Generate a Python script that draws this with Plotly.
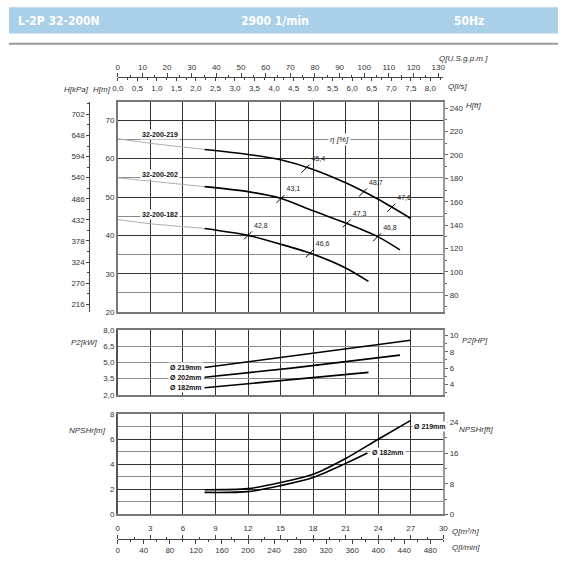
import plotly.graph_objects as go

# page size, everything else is placed in pixels and converted to paper coords
W, H = 566, 567


def px(x):
    return x / W


def py(y):
    return 1 - y / H


# pump data (Q in m3/h)
q_219 = [8, 12, 15, 18, 21, 24, 27]
h_219 = [62.4, 61.1, 59.7, 57.2, 53.7, 49.4, 44.4]
q_202 = [8, 12, 15, 18, 21, 24, 26]
h_202 = [52.7, 51.4, 49.7, 46.4, 43.2, 39.6, 36.2]
q_182 = [8, 12, 15, 18, 21, 23.1]
h_182 = [41.8, 40.0, 37.7, 35.1, 31.5, 28.0]

# grey extension of the curves towards shut-off
q_ext = [0, 3, 8]
h_ext_219 = [65.2, 64.0, 62.4]
h_ext_202 = [55.0, 54.1, 52.7]
h_ext_182 = [44.1, 43.0, 41.8]

# efficiency marks on the curves
eta_q_219 = [17.3, 22.6, 25.2]
eta_h_219 = [57.4, 51.2, 47.2]
eta_t_219 = ["45,4", "48,7", "47,6"]
eta_q_202 = [15.0, 21.1, 23.9]
eta_h_202 = [49.5, 43.1, 39.5]
eta_t_202 = ["43,1", "47,3", "46,8"]
eta_q_182 = [12.0, 17.7]
eta_h_182 = [40.0, 35.3]
eta_t_182 = ["42,8", "46,6"]

# power P2 [kW]
p_q_219 = [8, 16, 27]
p_219 = [4.53, 5.57, 7.03]
p_q_202 = [8, 16, 26]
p_202 = [3.63, 4.47, 5.67]
p_q_182 = [8, 16, 23.1]
p_182 = [2.66, 3.41, 4.08]

# NPSHr [m]
n_q_219 = [8, 12, 15, 18, 21, 24, 27]
n_219 = [1.97, 2.06, 2.55, 3.2, 4.46, 6.0, 7.5]
n_q_182 = [8, 12, 15, 18, 21, 23.0]
n_182 = [1.76, 1.82, 2.3, 2.95, 4.07, 4.9]

p_ticks = [2.0, 3.5, 5.0, 6.5, 8.0]

# unit conversions
M_TO_KPA = 9.81
M_TO_FT = 3.28084
KW_TO_HP = 1 / 0.7457
M3H_TO_GPM = 4.40287
M3H_TO_LS = 1 / 3.6
M3H_TO_LMIN = 1000 / 60

Q_MAX = 30
H_RANGE = [20, 74.8]
P_RANGE = [2, 8]
N_RANGE = [0, 8]

TICK_FONT = dict(family="Liberation Sans, Arial, sans-serif", size=8, color="#333")
DARK = "#333333"
GREY = "#8a8a8a"

x_dom = [px(114), px(446)]
main_dom = [py(313), py(99.5)]
pow_dom = [py(397.3), py(331)]
npsh_dom = [py(518.7), py(416.7)]

fig = go.Figure()

# main head curves
for qe, he in [(q_ext, h_ext_219), (q_ext, h_ext_202), (q_ext, h_ext_182)]:
    fig.add_trace(go.Scatter(x=qe, y=he, mode="lines", line=dict(color="#b0b0b0", width=1),
                             xaxis="x", yaxis="y", hoverinfo="skip"))
for q, h in [(q_219, h_219), (q_202, h_202), (q_182, h_182)]:
    fig.add_trace(go.Scatter(x=q, y=h, mode="lines",
                             line=dict(color="black", width=1.6, shape="spline", smoothing=0.8),
                             xaxis="x", yaxis="y"))
for q, h, t in [(eta_q_219, eta_h_219, eta_t_219), (eta_q_202, eta_h_202, eta_t_202),
                (eta_q_182, eta_h_182, eta_t_182)]:
    fig.add_trace(go.Scatter(x=q, y=h, text=t, mode="markers+text", textposition="top right",
                             textfont=dict(family="Liberation Sans, Arial", size=7, color="#222"),
                             marker=dict(symbol="line-ne", size=8, line=dict(color="black", width=1)),
                             xaxis="x", yaxis="y"))

# power curves
for q, p in [(p_q_219, p_219), (p_q_202, p_202), (p_q_182, p_182)]:
    fig.add_trace(go.Scatter(x=q, y=p, mode="lines", line=dict(color="black", width=1.6),
                             xaxis="x2", yaxis="y4"))

# npsh curves
for q, n in [(n_q_219, n_219), (n_q_182, n_182)]:
    fig.add_trace(go.Scatter(x=q, y=n, mode="lines",
                             line=dict(color="black", width=1.6, shape="spline", smoothing=0.8),
                             xaxis="x3", yaxis="y6"))

# empty traces so the secondary unit axes get drawn
for xa, ya in [("x4", "y"), ("x5", "y"), ("x", "y2"), ("x", "y3"), ("x2", "y5"),
               ("x6", "y6"), ("x7", "y6"), ("x3", "y7")]:
    fig.add_trace(go.Scatter(x=[None], y=[None], mode="lines", xaxis=xa, yaxis=ya,
                             hoverinfo="skip"))

base_x = dict(domain=x_dom, range=[0, Q_MAX], dtick=3, tick0=0, showticklabels=False, ticks="",
              showgrid=True, gridcolor=DARK, gridwidth=1, zeroline=False,
              showline=True, linecolor="#777", linewidth=1.5, mirror=True)

fig.update_layout(
    width=W, height=H, margin=dict(l=0, r=0, t=0, b=0),
    paper_bgcolor="white", plot_bgcolor="white",
    showlegend=False, separators=",.",
    xaxis=dict(base_x, anchor="y"),
    xaxis2=dict(base_x, anchor="y4"),
    xaxis3=dict(base_x, anchor="y6"),
    # top flow axes
    xaxis4=dict(overlaying="x", anchor="free", position=py(74.3), side="top",
                range=[0, Q_MAX * M3H_TO_GPM], dtick=10, tick0=0, showgrid=False, zeroline=False,
                showline=True, linecolor="#444", linewidth=1, ticks="outside", ticklen=4, tickcolor="#444",
                minor=dict(dtick=5, ticklen=2, ticks="outside", tickcolor="#444"),
                tickfont=TICK_FONT),
    xaxis5=dict(overlaying="x", anchor="free", position=py(74.3), side="bottom",
                range=[0, Q_MAX * M3H_TO_LS], dtick=0.5, tick0=0, tickformat=".1f",
                showgrid=False, zeroline=False, showline=False, ticks="outside", ticklen=3,
                tickcolor="#444", minor=dict(dtick=0.25, ticklen=2, ticks="outside", tickcolor="#444"),
                tickfont=TICK_FONT),
    # bottom flow axes
    xaxis6=dict(overlaying="x3", anchor="free", position=py(543.3), side="top",
                range=[0, Q_MAX], dtick=3, tick0=0, showgrid=False, zeroline=False,
                showline=True, linecolor="#444", linewidth=1, ticks="outside", ticklen=4, tickcolor="#444",
                minor=dict(dtick=1.5, ticklen=2, ticks="outside", tickcolor="#444"),
                tickfont=TICK_FONT),
    xaxis7=dict(overlaying="x3", anchor="free", position=py(543.3), side="bottom",
                range=[0, Q_MAX * M3H_TO_LMIN], dtick=40, tick0=0, showgrid=False, zeroline=False,
                showline=False, ticks="outside", ticklen=4, tickcolor="#444",
                minor=dict(dtick=20, ticklen=2, ticks="outside", tickcolor="#444"),
                tickfont=TICK_FONT),
    # head axes
    yaxis=dict(domain=main_dom, anchor="x", range=H_RANGE, dtick=10, tick0=20,
               showgrid=True, gridcolor=DARK, zeroline=False, ticks="", tickfont=TICK_FONT,
               showline=True, linecolor="#777", linewidth=1.5, mirror=True,
               minor=dict(dtick=5, showgrid=True, gridcolor=GREY)),
    yaxis2=dict(overlaying="y", anchor="free", position=px(85), side="left",
                range=[H_RANGE[0] * M_TO_KPA, H_RANGE[1] * M_TO_KPA], tick0=216, dtick=54,
                showgrid=False, zeroline=False, showline=True, linecolor="#444", linewidth=1,
                ticks="outside", ticklen=3, tickcolor="#444", tickfont=TICK_FONT,
                minor=dict(tick0=216, dtick=27, ticklen=2, ticks="outside", tickcolor="#444")),
    yaxis3=dict(overlaying="y", anchor="x", side="right",
                range=[H_RANGE[0] * M_TO_FT, H_RANGE[1] * M_TO_FT], dtick=20, tick0=0,
                showgrid=False, zeroline=False, showline=True, linecolor="#999", linewidth=1.5,
                ticks="outside", ticklen=3, tickcolor="#666", tickfont=TICK_FONT,
                minor=dict(dtick=10, ticklen=2, ticks="outside", tickcolor="#666")),
    # power axes
    yaxis4=dict(domain=pow_dom, anchor="x2", range=P_RANGE, tickvals=p_ticks, tickformat=".1f",
                showgrid=True, gridcolor=GREY, zeroline=False, ticks="", tickfont=TICK_FONT,
                showline=True, linecolor="#555", linewidth=1.5, mirror=True),
    yaxis5=dict(overlaying="y4", anchor="x2", side="right",
                range=[P_RANGE[0] * KW_TO_HP, P_RANGE[1] * KW_TO_HP], dtick=2, tick0=0,
                showgrid=False, zeroline=False, showline=True, linecolor="#999", linewidth=1.5,
                ticks="outside", ticklen=3, tickcolor="#666", tickfont=TICK_FONT,
                minor=dict(dtick=1, ticklen=2, ticks="outside", tickcolor="#666")),
    # npsh axes
    yaxis6=dict(domain=npsh_dom, anchor="x3", range=N_RANGE, dtick=2, tick0=0,
                showgrid=True, gridcolor=DARK, zeroline=False, ticks="", tickfont=TICK_FONT,
                showline=True, linecolor="#555", linewidth=1.5, mirror=True,
                minor=dict(dtick=1, showgrid=True, gridcolor=GREY)),
    yaxis7=dict(overlaying="y6", anchor="x3", side="right",
                range=[N_RANGE[0] * M_TO_FT, N_RANGE[1] * M_TO_FT], dtick=8, tick0=0,
                showgrid=False, zeroline=False, showline=True, linecolor="#999", linewidth=1.5,
                ticks="outside", ticklen=3, tickcolor="#666", tickfont=TICK_FONT,
                minor=dict(dtick=4, ticklen=2, ticks="outside", tickcolor="#666")),
)

# header band
fig.add_shape(type="rect", xref="paper", yref="paper", x0=px(3), x1=px(563), y0=py(30), y1=py(3.3),
              fillcolor="#a9d0e8", line=dict(width=0), layer="below")
fig.add_shape(type="line", xref="paper", yref="paper", x0=px(3), x1=px(563), y0=py(40.5), y1=py(40.5),
              line=dict(color="#9a9a9a", width=2))

HEAD_FONT = dict(family="Liberation Sans Narrow, DejaVu Sans Condensed, Arial Narrow, sans-serif",
                 size=12, color="white")
for txt, x, anchor in [("L-2P 32-200N", 10, "left"), ("2900 1/min", 274, "center"), ("50Hz", 472, "center")]:
    fig.add_annotation(text="<b>" + txt + "</b>", xref="paper", yref="paper", x=px(x), y=py(17),
                       xanchor=anchor, yanchor="middle", showarrow=False, font=HEAD_FONT)

# axis titles
LBL_FONT = dict(family="Liberation Sans, Arial, sans-serif", size=8, color="#333")
titles = [
    ("H[kPa]", 72, 86.5), ("H[m]", 98, 86.5), ("Q[U.S.g.p.m.]", 467, 55), ("Q[l/s]", 460, 84),
    ("H[ft]", 477, 103.5), ("P2[kW]", 80, 344), ("P2[HP]", 478, 342),
    ("NPSHr[m]", 83, 433), ("NPSHr[ft]", 480, 432), ("Q[m³/h]", 469, 536), ("Q[l/min]", 469, 552),
]
for txt, x, y in titles:
    fig.add_annotation(text="<i>" + txt + "</i>", xref="paper", yref="paper", x=px(x), y=py(y),
                       xanchor="center", yanchor="middle", showarrow=False, font=LBL_FONT)

# curve labels
CURVE_FONT = dict(family="Liberation Sans, Arial, sans-serif", size=7, color="#111")
for txt, h in [("32-200-219", 66.4), ("32-200-202", 56.0), ("32-200-182", 45.4)]:
    fig.add_annotation(text="<b>" + txt + "</b>", x=3.9, y=h, xref="x", yref="y", showarrow=False,
                       bgcolor="white", font=CURVE_FONT, borderpad=1)
fig.add_annotation(text="<i>η [%]</i>", x=20.4, y=64.9, xref="x", yref="y", showarrow=False,
                   bgcolor="white", font=dict(family="Liberation Sans, Arial", size=8, color="#222"))

for txt, p in [("Ø 219mm", p_219[0]), ("Ø 202mm", p_202[0]), ("Ø 182mm", p_182[0])]:
    fig.add_annotation(text="<b>" + txt + "</b>", x=7.9, y=p, xref="x2", yref="y4", xanchor="right",
                       showarrow=False, bgcolor="white", font=CURVE_FONT, borderpad=1)

fig.add_annotation(text="<b>Ø 219mm</b>", x=27.1, y=7.0, xref="x3", yref="y6", xanchor="left",
                   showarrow=False, bgcolor="white", font=CURVE_FONT, borderpad=1)
fig.add_annotation(text="<b>Ø 182mm</b>", x=23.2, y=4.9, xref="x3", yref="y6", xanchor="left",
                   showarrow=False, bgcolor="white", font=CURVE_FONT, borderpad=1)

# drop the default page margin and scrollbars so pixel positions line up with the window
page_fix = ("document.documentElement.style.margin='0';document.documentElement.style.overflow='hidden';"
            "document.body.style.margin='0';document.body.style.padding='0';"
            "document.body.style.overflow='hidden';")
fig.write_html("out.html", config={"displayModeBar": False}, post_script=page_fix)
